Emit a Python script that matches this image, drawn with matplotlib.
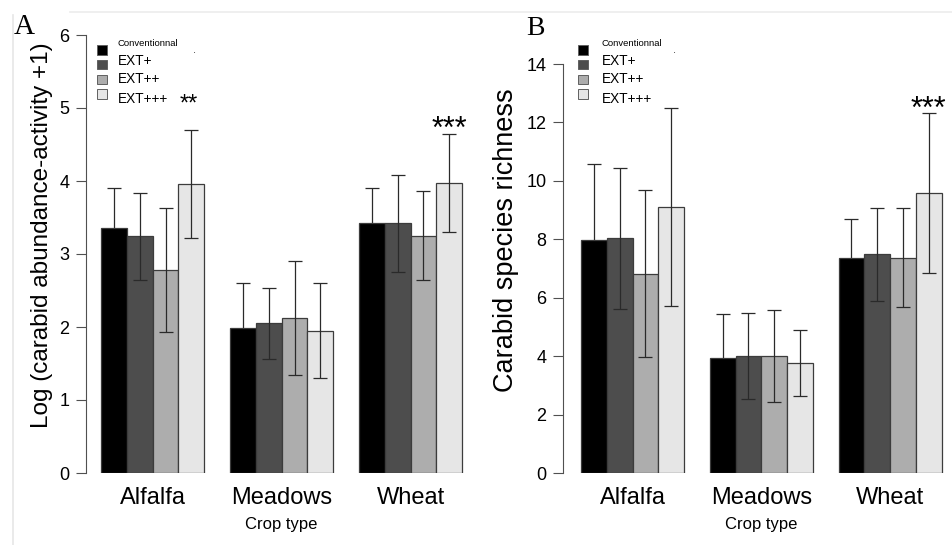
import numpy as np
import matplotlib
matplotlib.use('Agg')
import matplotlib.pyplot as plt
import matplotlib.transforms as mtrans
from matplotlib.lines import Line2D
from matplotlib.patches import Rectangle

plt.rcParams['font.family'] = ['Liberation Sans', 'DejaVu Sans']

# data
crops = ['Alfalfa', 'Meadows', 'Wheat']
treatments = ['Conventionnal', 'EXT+', 'EXT++', 'EXT+++']
colors = ['#000000', '#4d4d4d', '#adadad', '#e6e6e6']

abund_mean = [[3.35, 3.24, 2.78, 3.96],
              [1.99, 2.05, 2.12, 1.95],
              [3.42, 3.42, 3.25, 3.97]]
abund_err = [[0.56, 0.59, 0.85, 0.74],
             [0.61, 0.49, 0.78, 0.65],
             [0.48, 0.66, 0.61, 0.67]]

rich_mean = [[7.99, 8.03, 6.82, 9.11],
             [3.94, 4.00, 4.00, 3.76],
             [7.36, 7.49, 7.37, 9.59]]
rich_err = [[2.58, 2.40, 2.86, 3.40],
            [1.49, 1.46, 1.57, 1.14],
            [1.34, 1.59, 1.70, 2.74]]

W, H = 952, 545
fig = plt.figure(figsize=(W / 100, H / 100), dpi=100)


def fx(px):
    return px / W


def fy(py):
    return 1 - py / H


def panel(left_px, first_bar_px, unit_px, top_px, ymax, yticks, means, errs):
    bottom_px = 473
    right_px = left_px + 15.2 * unit_px
    ax = fig.add_axes([fx(left_px), fy(bottom_px), fx(right_px - left_px), (bottom_px - top_px) / H])
    x0 = 1 - (first_bar_px - left_px) / unit_px
    ax.set_xlim(x0, x0 + (right_px - left_px) / unit_px)
    ax.set_ylim(0, ymax)
    for g in range(len(crops)):
        for i in range(len(treatments)):
            xc = 1 + 5 * g + i + 0.5
            ax.bar(xc, means[g][i], width=1, color=colors[i], edgecolor='#3c3c3c', linewidth=0.9, zorder=2)
            # whisker of the black bar disappears inside the bar, as in the original
            ax.errorbar(xc, means[g][i], yerr=errs[g][i], color='#2a2a2a', elinewidth=0.9,
                        capsize=5, capthick=0.9, zorder=1 if i == 0 else 3)
    for s in ['top', 'right', 'bottom']:
        ax.spines[s].set_visible(False)
    ax.spines['left'].set_bounds(0, ymax)
    ax.spines['left'].set_color('#505050')
    ax.set_yticks(yticks)
    ax.tick_params(axis='y', labelsize=13, length=7, color='#505050', pad=5)
    ax.set_xticks([])
    tr = mtrans.blended_transform_factory(ax.transData, fig.transFigure)
    for g, name in enumerate(crops):
        ax.text(1 + 5 * g + 2, fy(498), name, ha='center', va='center', fontsize=17, transform=tr)
    ax.text(1 + 5 + 2, fy(524), 'Crop type', ha='center', va='center', fontsize=12, transform=tr)
    return ax


axA = panel(86, 101, 25.8, 35, 6, range(0, 7), abund_mean, abund_err)
axB = panel(563, 581, 25.75, 64, 14, range(0, 15, 2), rich_mean, rich_err)

fig.text(fx(42), fy(235), 'Log (carabid abundance-activity +1)', rotation=90,
         ha='center', va='center', fontsize=17.5)
fig.text(fx(506), fy(240), 'Carabid species richness', rotation=90,
         ha='center', va='center', fontsize=19.5)

# significance stars
axA.text(4.4, 5.05, '**', ha='center', va='center', fontsize=17, clip_on=False)
axA.text(14.5, 4.70, '***', ha='center', va='center', fontsize=22, clip_on=False)
axB.text(14.5, 12.43, '***', ha='center', va='center', fontsize=22, clip_on=False)

# panel letters
fig.text(fx(14), fy(34), 'A', fontsize=21, family='Liberation Serif')
fig.text(fx(526), fy(35), 'B', fontsize=20, family='Liberation Serif')

# legends
for sq_x, txt_x in [(97, 118), (578, 602)]:
    sq_y = [50, 64, 79, 94]
    txt_y = [44, 61, 79, 99]
    for i, lab in enumerate(treatments):
        fig.patches.append(Rectangle((fx(sq_x), fy(sq_y[i] + 4.5)), fx(10), 9 / H,
                                     facecolor=colors[i], edgecolor='#606060', linewidth=0.7,
                                     transform=fig.transFigure, figure=fig))
        fig.text(fx(txt_x), fy(txt_y[i]), lab, va='center', ha='left',
                 fontsize=6.8 if i == 0 else 9.8)
    fig.text(fx(sq_x + 97), fy(50), '.', fontsize=8, color='#333333', ha='center', va='center')

# faint frame lines of the original figure
fig.add_artist(Line2D([fx(13), fx(13)], [fy(15), 0], color='#e6e6e6', lw=1.2))
fig.add_artist(Line2D([fx(70), 1], [fy(12), fy(12)], color='#ececec', lw=1.2))

fig.savefig('out.png', dpi=100)
